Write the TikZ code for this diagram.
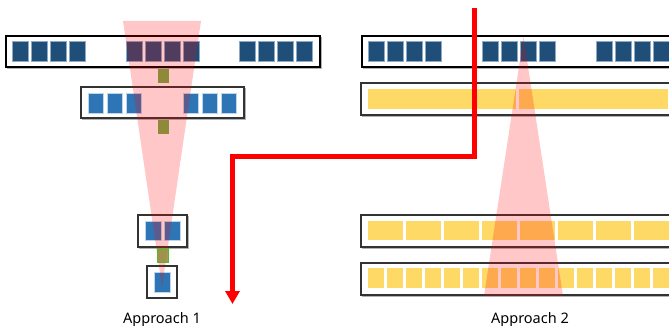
\documentclass[tikz,border=0pt]{standalone}
\usepackage{fontspec}
\setmainfont{Noto Sans}
\usetikzlibrary{arrows.meta}
\definecolor{dkblue}{HTML}{1F4E79}
\definecolor{ltblue}{HTML}{2E75B6}
\definecolor{sqedge}{HTML}{8FA9C4}
\definecolor{mossgreen}{RGB}{143,137,58}
\definecolor{yellowbar}{HTML}{FFD966}
\begin{document}
\begin{tikzpicture}[x=1pt, y=-1pt,
    thickbox/.style={draw=black, line width=2pt},
    thinbox/.style={draw=black!80, line width=1.1pt},
    boxshadow/.style={draw=black!30, line width=1.2pt},
    dksq/.style={fill=dkblue, draw=sqedge, line width=0.5pt},
    ltsq/.style={fill=ltblue, draw=white!70!ltblue, line width=0.5pt},
    mosssq/.style={fill=mossgreen, draw=none},
    ylsq/.style={fill=yellowbar, draw=none},
    cone/.style={fill=red, fill opacity=0.22},
    flow/.style={draw=red, line width=5pt, line join=miter, -{Triangle[width=14pt,length=13pt]}},
    caption/.style={anchor=base, font=\fontsize{14.5}{16}\selectfont}]
  \useasboundingbox (0, 0) rectangle (669, 326);
  \clip (0, 0) rectangle (669, 326);
  % approach 1
  \draw[boxshadow] (7.5, 37.5) rectangle (321.5, 68.5);
  \draw[thickbox, fill=white] (6, 36) rectangle (320, 67);
  \foreach \x in {12, 31, 50, 69, 126, 145, 164, 183, 239, 258, 277, 296}
    \draw[dksq] (\x, 41) rectangle ++(16.5, 20);
  \draw[boxshadow] (82.5, 88.5) rectangle (245.5, 119.5);
  \draw[thinbox, fill=white] (81, 87) rectangle (244, 118);
  \foreach \x in {88, 107, 126, 183, 202, 221}
    \draw[ltsq] (\x, 93) rectangle ++(15.5, 20);
  \draw[boxshadow] (139.5, 216.5) rectangle (188.5, 248.5);
  \draw[thinbox, fill=white] (138, 215) rectangle (187, 247);
  \foreach \x in {145, 164}
    \draw[ltsq] (\x, 221) rectangle ++(16, 19);
  \draw[thinbox] (147, 266) rectangle (177, 298);
  \draw[ltsq] (154, 272) rectangle (170, 292);
  \fill[cone] (123, 21) -- (201, 21) -- (162, 287) -- cycle;
  % links sit on top of the cone
  \fill[mosssq] (158, 69) rectangle (169, 83);
  \fill[mosssq] (158, 120) rectangle (169, 134);
  \fill[mosssq, fill opacity=0.85] (157, 248) rectangle (168, 262);
  \draw[green!40!mossgreen, line width=0.6pt] (157, 248) rectangle (168, 262);
  \node[caption] (capone) at (162, 323) {Approach 1};
  % approach 2
  \draw[boxshadow] (363.5, 37.5) rectangle (680, 68.5);
  \draw[thickbox, fill=white] (362, 36) rectangle (680, 67);
  \foreach \x in {368, 387, 406, 425, 482, 501, 520, 539, 596, 615, 634, 653}
    \draw[dksq] (\x, 41) rectangle ++(16.5, 20);
  \draw[boxshadow] (362.5, 84.5) rectangle (680, 116.5);
  \draw[thinbox, fill=white] (361, 83) rectangle (680, 115);
  \fill[ylsq] (368, 89) rectangle (516, 109);
  \fill[ylsq] (519, 89) rectangle (668, 109);
  \draw[boxshadow] (362.5, 216.5) rectangle (680, 248.5);
  \draw[thinbox, fill=white] (361, 215) rectangle (680, 247);
  \foreach \x in {368, 406, 444, 482, 520, 558, 596, 634}
    \fill[ylsq] (\x, 221) rectangle ++(35, 19);
  \draw[boxshadow] (362.5, 264.5) rectangle (680, 296.5);
  \draw[thinbox, fill=white] (361, 263) rectangle (680, 295);
  \foreach \x in {368, 387, ..., 653}
    \fill[ylsq] (\x, 268) rectangle ++(16, 20);
  \fill[cone] (523.5, 37) -- (563, 296) -- (484, 296) -- cycle;
  \node[caption] (captwo) at (530, 323) {Approach 2};
  % switch between approaches
  \coordinate (flowstart) at (474.5, 8);
  \coordinate (flowend) at (232.5, 304);
  \draw[flow] (flowstart) -- ++(0, 148.5) -| (flowend);
\end{tikzpicture}
\end{document}
